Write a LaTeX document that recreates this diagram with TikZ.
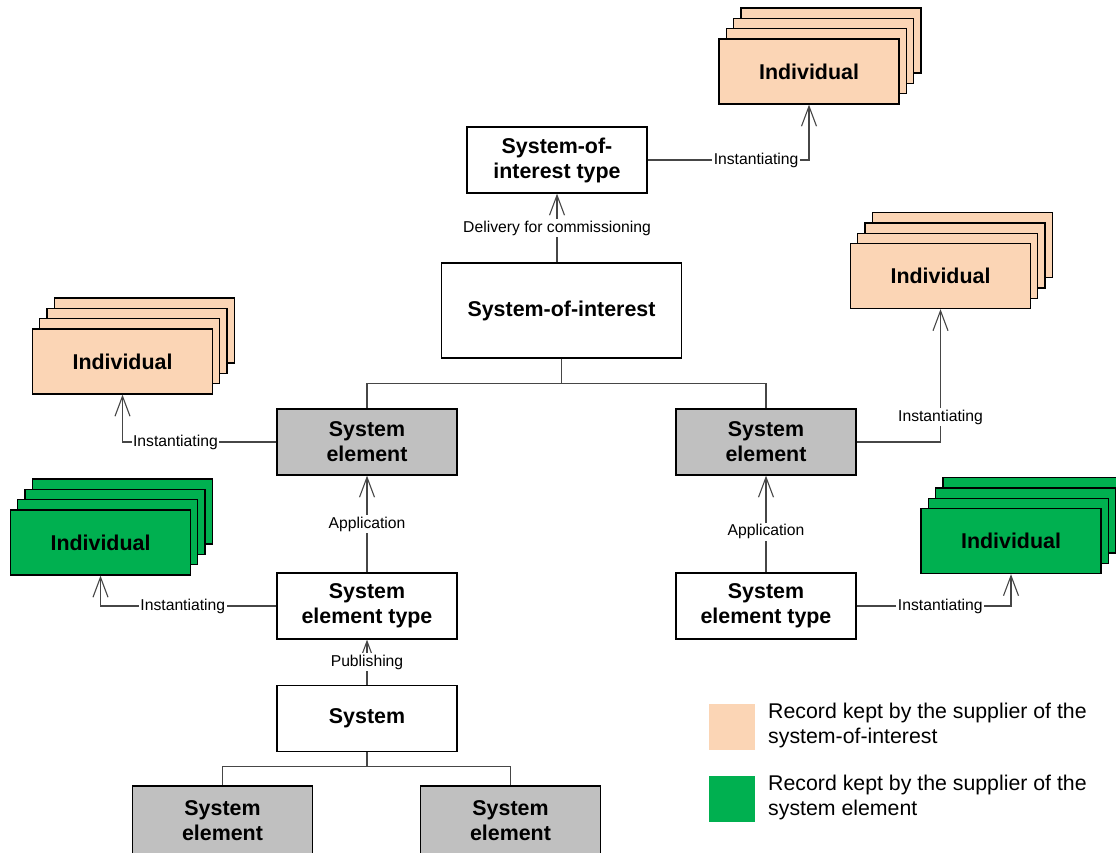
\documentclass[tikz,border=0pt]{standalone}
\usepackage{fontspec}
\setmainfont{Liberation Sans}
\usetikzlibrary{arrows.meta}

\definecolor{peach}{RGB}{251,213,181}
\definecolor{recgreen}{RGB}{0,176,80}
\definecolor{elemgray}{RGB}{192,192,192}
\definecolor{linegray}{RGB}{70,70,70}

\tikzset{
  box/.style={draw=black, line width=1.3pt, minimum width=180pt, minimum height=66pt,
    align=center, inner sep=2pt, font=\fontsize{21.4}{25}\selectfont\bfseries},
  elem/.style={box, fill=elemgray},
  indiv/.style={box, minimum width=180pt, minimum height=65pt},
  conn/.style={draw=linegray, line width=1.1pt},
  arr/.style={conn, -{Straight Barb[length=20pt,width=15pt,line width=1.1pt]}},
  lbl/.style={fill=white, inner sep=1.5pt, text=black, font=\fontsize{15.7}{18}\selectfont},
  legtext/.style={anchor=north west, inner sep=0pt, align=left, font=\fontsize{21.3}{25}\selectfont},
  swatch/.style={minimum size=46pt, inner sep=0pt},
}

% A stack of record cards: name, centre x, centre y, fill colour
\newcommand\recordstack[4]{%
  \foreach \k in {3,2,1} {
    \node[indiv, fill=#4] (#1-\k) at ({#2+7.3*\k},{#3-10.3*\k}) {};
  }
  \node[indiv, fill=#4] (#1) at (#2,#3) {Individual};
}

\begin{document}
\begin{tikzpicture}[x=1pt, y=-1pt]
  \path[use as bounding box] (0,0) rectangle (1116,852);
  \clip (0,0) rectangle (1116,852);

  % main hierarchy
  \node[box] (soitype) at (557,160) {System-of-\\interest type};
  \node[box, minimum width=240pt, minimum height=95pt] (soi) at (561.5,310.5) {System-of-interest};
  \node[elem] (seL) at (367,442) {System\\element};
  \node[elem] (seR) at (766,442) {System\\element};
  \node[box] (setL) at (367,606) {System\\element type};
  \node[box] (setR) at (766,606) {System\\element type};
  \node[box] (sys) at (367,718.5) {System};
  \node[elem, minimum height=70pt] (seB1) at (222.5,821) {System\\element};
  \node[elem, minimum height=70pt] (seB2) at (510.5,821) {System\\element};

  % record stacks
  \recordstack{indTop}{809}{71.5}{peach}
  \recordstack{indL}{122.5}{361.5}{peach}
  \recordstack{indR}{940.5}{276}{peach}
  \recordstack{grL}{100.5}{542.5}{recgreen}
  \recordstack{grR}{1011}{541}{recgreen}

  % decomposition trees
  \draw[conn] (soi.south) -- ++(0,25) -| (seL.north);
  \draw[conn] (soi.south) -- ++(0,25) -| (seR.north);
  \draw[conn] (sys.south) -- ++(0,14) -| (seB1.north);
  \draw[conn] (sys.south) -- ++(0,14) -| (seB2.north);

  % relations
  \draw[arr] (soitype.south |- soi.north) -- node[lbl] {Delivery for commissioning} (soitype.south);
  \draw[arr] (soitype.east) -| node[lbl, pos=0.336] {Instantiating} (indTop.south);
  \draw[arr] (seL.west) -| node[lbl, pos=0.328] {Instantiating} (indL.south);
  \draw[arr] (seR.east) -| node[lbl, pos=0.594] {Instantiating} (indR.south);
  \draw[arr] (setL.west) -| node[lbl, pos=0.266] {Instantiating} (grL.south);
  \draw[arr] (setR.east) -| node[lbl, pos=0.271] {Instantiating} (grR.south);
  \draw[arr] (setL.north) -- node[lbl] {Application} (seL.south);
  \draw[arr] (setR.north) -- node[lbl, pos=0.42] {Application} (seR.south);
  \draw[arr] (sys.north) -- node[lbl] {Publishing} (setL.south);

  % legend
  \node[swatch, fill=peach] (keyA) at (732,727) {};
  \node[swatch, fill=recgreen] (keyB) at (732,799) {};
  \node[legtext] (keyAtext) at (768,703) {Record kept by the supplier of the\\system-of-interest};
  \node[legtext] (keyBtext) at (768,775) {Record kept by the supplier of the\\system element};
\end{tikzpicture}
\end{document}
